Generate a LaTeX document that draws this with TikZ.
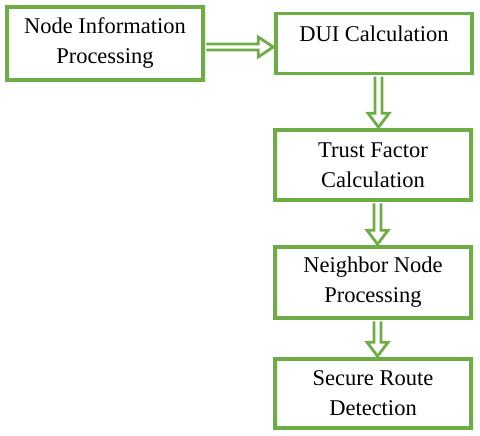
\documentclass[tikz,border=0pt]{standalone}
\usepackage{fontspec}
\setmainfont{Liberation Serif}
\usetikzlibrary{calc}
\definecolor{boxgreen}{HTML}{6DAD45}
\tikzset{
  box/.style={draw=boxgreen, line width=3.5pt, fill=white, minimum width=196pt, align=center,
    font=\fontsize{22.5}{30}\selectfont, inner sep=0pt},
  blockarrow/.style={draw=boxgreen, line width=2.8pt, fill=white, line join=miter}
}
\begin{document}
\begin{tikzpicture}[x=1pt,y=1pt]
\useasboundingbox (0,0) rectangle (480,-436);
\node[box, minimum height=73pt] (n1) at (105,-43.5) {Node Information\\Processing};
\node[box, minimum height=60pt] (n2) at (374,-43.5) {};
\node[font=\fontsize{22.5}{30}\selectfont] (t2) at (374,-34) {DUI Calculation};
\node[box, minimum height=70pt] (n3) at (373,-165) {Trust Factor\\Calculation};
\node[box, minimum height=71pt] (n4) at (373,-282.5) {Neighbor Node\\Processing};
\node[box, minimum height=69pt] (n5) at (373,-393.5) {Secure Route\\Detection};
% horizontal block arrow
\draw[blockarrow] let \p1=(n1.east), \p2=(n2.west) in
  (\x1+1.5,\y1-0.5) -- (\x2-16,\y1-0.5) -- (\x2-16,\y1+6.5) -- (\x2-1,\y1-3.5)
  -- (\x2-16,\y1-13.5) -- (\x2-16,\y1-6.5) -- (\x1+1.5,\y1-6.5);
% vertical block arrows
\foreach \a/\b in {n2/n3, n3/n4, n4/n5}{
  \draw[blockarrow] let \p1=(\a.south), \p2=(\b.north) in
    (\x1+1,\y1-1.5) -- (\x1+1,\y2+15) -- (\x1-6,\y2+15) -- (\x1+4.5,\y2+1)
    -- (\x1+15,\y2+15) -- (\x1+8,\y2+15) -- (\x1+8,\y1-1.5);
}
\end{tikzpicture}
\end{document}
